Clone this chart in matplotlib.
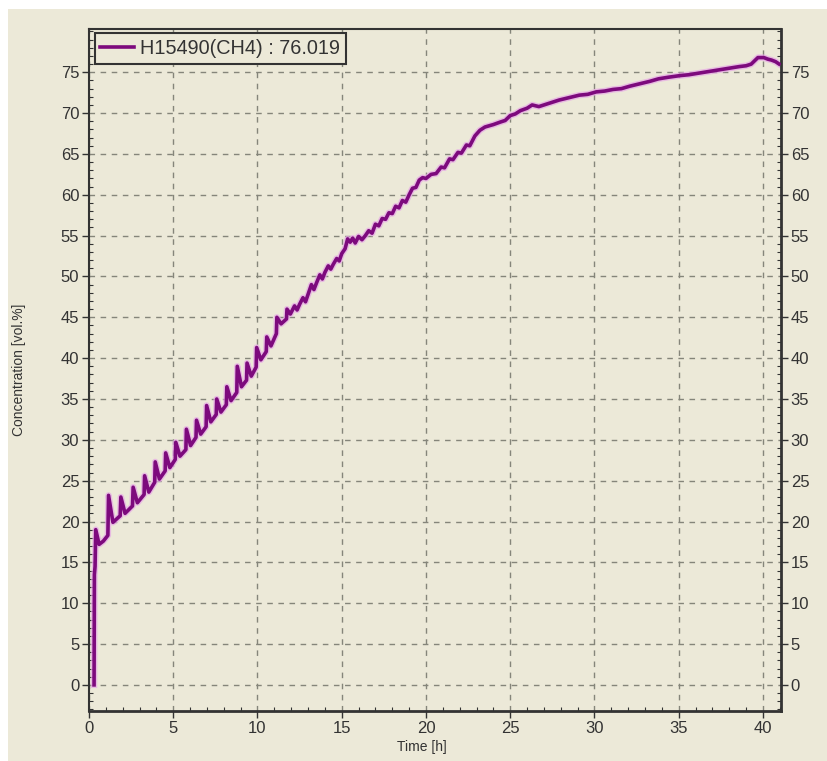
import matplotlib
matplotlib.use("Agg")
import matplotlib.pyplot as plt
from matplotlib.patches import Rectangle
from matplotlib.ticker import MultipleLocator

# Methane concentration log for sensor H15490
time_h = [
    0.30, 0.32, 0.36, 0.40, 0.60, 0.85, 1.12, 1.16, 1.42, 1.85, 1.89, 2.14,
    2.58, 2.62, 2.87, 3.27, 3.30, 3.55, 3.90, 3.93, 4.18, 4.52, 4.55, 4.80,
    5.12, 5.15, 5.40, 5.75, 5.78, 6.03, 6.35, 6.38, 6.63, 6.95, 6.98, 7.23,
    7.55, 7.58, 7.83, 8.15, 8.18, 8.43, 8.77, 8.80, 9.05, 9.35, 9.38, 9.63,
    9.92, 9.95, 10.20, 10.52, 10.55, 10.80, 11.12, 11.15, 11.40, 11.72, 11.75, 11.95,
    12.2, 12.35, 12.5, 12.7, 12.85, 13.0, 13.2, 13.35, 13.5, 13.7, 13.85, 14.0,
    14.2, 14.35, 14.5, 14.7, 14.85, 15.0, 15.2, 15.35, 15.5, 15.65, 15.8, 16.0,
    16.2, 16.4, 16.6, 16.8, 17.0, 17.2, 17.4, 17.6, 17.8, 18.0, 18.2, 18.4,
    18.6, 18.8, 19.0, 19.2, 19.4, 19.6, 19.8, 20.0, 20.3, 20.6, 20.9, 21.1,
    21.4, 21.6, 21.9, 22.1, 22.4, 22.6, 22.9, 23.2, 23.5, 24.0, 24.4, 24.7,
    25.0, 25.3, 25.6, 26.0, 26.3, 26.7, 27.3, 27.9, 28.5, 29.1, 29.6, 30.1,
    30.6, 31.1, 31.6, 32.1, 32.7, 33.3, 33.8, 34.4, 35.1, 35.6, 36.2, 36.8,
    37.4, 38.0, 38.6, 39.0, 39.3, 39.5, 39.7, 40.05, 40.3, 40.5, 40.75, 40.95,
]
ch4_vol = [
    0.0, 13.5, 14.5, 19.0, 17.2, 17.6, 18.3, 23.2, 19.9, 20.7, 23.0, 21.0,
    21.9, 24.2, 22.3, 23.3, 25.6, 23.6, 24.8, 27.3, 25.2, 26.2, 28.4, 26.6,
    27.6, 29.7, 28.0, 28.8, 31.3, 29.3, 30.3, 32.4, 30.7, 31.6, 34.2, 32.2,
    33.1, 35.0, 33.4, 34.3, 36.5, 34.8, 35.8, 39.0, 36.5, 37.3, 39.4, 37.8,
    38.9, 41.3, 39.8, 40.8, 42.6, 41.5, 43.0, 45.0, 44.2, 44.8, 46.0, 45.4,
    46.4, 45.9, 46.6, 47.4, 46.9, 47.8, 49.0, 48.4, 49.2, 50.2, 49.7, 50.5,
    51.3, 50.9, 51.5, 52.2, 51.9, 52.8, 53.4, 54.6, 54.2, 54.7, 54.1, 54.9,
    54.5, 55.0, 55.6, 55.3, 56.4, 56.2, 57.1, 57.0, 57.8, 57.7, 58.6, 58.4,
    59.3, 59.1, 60.0, 60.8, 60.9, 61.8, 62.1, 62.0, 62.5, 62.6, 63.4, 63.3,
    64.4, 64.3, 65.2, 65.1, 66.1, 66.0, 67.2, 67.9, 68.3, 68.6, 68.9, 69.1,
    69.7, 69.9, 70.3, 70.6, 71.0, 70.8, 71.2, 71.6, 71.9, 72.2, 72.3, 72.6,
    72.7, 72.9, 73.0, 73.3, 73.6, 73.9, 74.2, 74.4, 74.6, 74.7, 74.9, 75.1,
    75.3, 75.5, 75.7, 75.8, 76.0, 76.4, 76.8, 76.8, 76.6, 76.5, 76.3, 76.019,
]
series_label = "H15490(CH4) : 76.019"
x_ticks = [0, 5, 10, 15, 20, 25, 30, 35, 40]
y_ticks = [0, 5, 10, 15, 20, 25, 30, 35, 40, 45, 50, 55, 60, 65, 70, 75]

BG = "#ECE9D8"
INK = "#333333"
plt.rcParams["font.family"] = ["Liberation Sans", "DejaVu Sans"]

fig = plt.figure(figsize=(8.27, 7.61), dpi=100, facecolor="white")
fig.patches.append(Rectangle((8 / 827, 0), 1, 752 / 761, transform=fig.transFigure,
                             facecolor=BG, edgecolor="none", zorder=-10))

ax = fig.add_axes([89 / 827, 50 / 761, 692 / 827, 682 / 761])
ax.set_facecolor(BG)

# soft halo under the trace, then the trace itself
ax.plot(time_h, ch4_vol, color="#e6a6e6", lw=4.6, alpha=0.7, zorder=2,
        solid_joinstyle="round")
ax.plot(time_h, ch4_vol, color="#7d0a7d", lw=2.6, zorder=3,
        solid_joinstyle="round", label=series_label)

ax.set_xlim(0, 41.07)
ax.set_ylim(-3.2, 80.3)
ax.set_xticks(x_ticks)
ax.set_yticks(y_ticks)
ax.xaxis.set_minor_locator(MultipleLocator(1))
ax.yaxis.set_minor_locator(MultipleLocator(1))

ax.grid(True, which="major", linestyle=(0, (4, 4)), color="#85857a", lw=1.0)
ax.set_axisbelow(True)

ax.tick_params(axis="both", which="major", labelsize=12, colors=INK,
               length=5, width=1.0, direction="out", pad=2)
ax.tick_params(axis="both", which="minor", length=3, width=0.8,
               direction="in", colors=INK)
ax.tick_params(axis="y", which="both", left=True, right=True,
               labelleft=True, labelright=True)

for side, lw in (("left", 1.5), ("bottom", 2.0), ("right", 2.0), ("top", 1.5)):
    ax.spines[side].set_color(INK)
    ax.spines[side].set_linewidth(lw)

ax.set_xlabel("Time [h]", fontsize=10, color=INK)
ax.xaxis.set_label_coords(0.481, -0.042)
ax.set_ylabel("Concentration [vol.%]", fontsize=10, color=INK)
ax.yaxis.set_label_coords(-0.091, 0.5)

leg = ax.legend(loc="upper left", bbox_to_anchor=(0.008, 0.994), fontsize=14.3,
                frameon=True, fancybox=False, edgecolor=INK, facecolor=BG,
                framealpha=1, handlelength=1.7, handletextpad=0.3,
                borderpad=0.3, borderaxespad=0.0)
leg.get_frame().set_linewidth(1.5)
for t in leg.get_texts():
    t.set_color(INK)

fig.savefig("out.png", dpi=100, facecolor=fig.get_facecolor())
